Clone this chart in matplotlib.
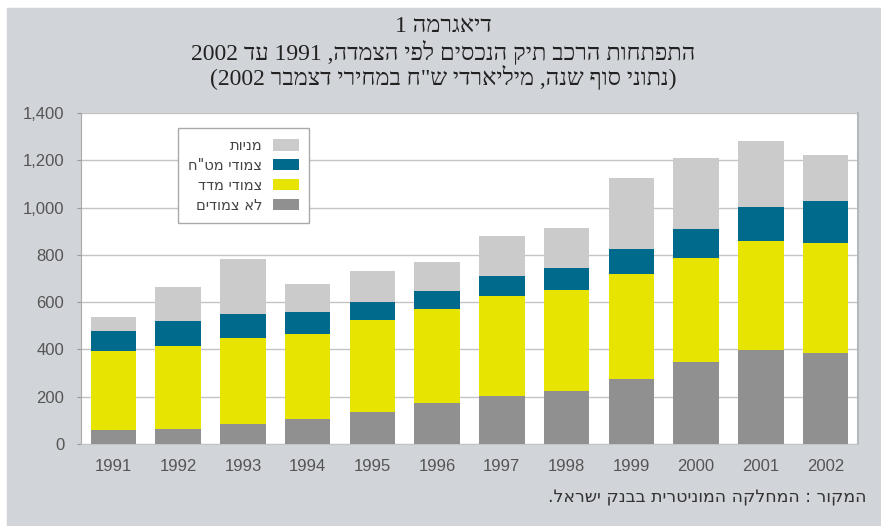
import re
import numpy as np
import matplotlib
matplotlib.use("Agg")
from matplotlib import pyplot as plt
from matplotlib.patches import Rectangle

years = ["1991", "1992", "1993", "1994", "1995", "1996",
         "1997", "1998", "1999", "2000", "2001", "2002"]
# NIS billions, Dec 2002 prices
not_linked = [59, 64, 85, 106, 134, 172, 205, 226, 275, 345, 397, 384]
cpi_linked = [333, 351, 364, 360, 391, 400, 420, 427, 442, 441, 460, 466]
fx_linked = [88, 107, 101, 93, 76, 77, 84, 91, 107, 124, 147, 178]
shares = [59, 144, 232, 118, 130, 122, 169, 169, 302, 300, 276, 196]

series_names = ["לא צמודים", "צמודי מדד", 'צמודי מט"ח', "מניות"]
colors = ["#909090", "#e6e400", "#006a8c", "#cbcbcb"]

title1 = "דיאגרמה 1"
title2 = "התפתחות הרכב תיק הנכסים לפי הצמדה, 1991 עד 2002"
title3 = '(נתוני סוף שנה, מיליארדי ש"ח במחירי דצמבר 2002)'
source = "המקור : המחלקה המוניטרית בבנק ישראל."


def visual(s):
    # logical hebrew -> left to right drawing order, numbers kept as is
    r = s[::-1]
    r = re.sub(r"[0-9][0-9,.]*[0-9]", lambda m: m.group(0)[::-1], r)
    return r.translate(str.maketrans("()", ")("))


bg = "#d1d4d8"
fig = plt.figure(figsize=(8.81, 5.26), dpi=100, facecolor="white")
fig.patches.append(Rectangle((7 / 881, 0), 1, 1 - 8 / 526,
                             transform=fig.transFigure, color=bg, zorder=-10))

ax = fig.add_axes([81 / 881, 82 / 526, 777 / 881, 331 / 526])
ax.set_facecolor("white")

x = np.arange(len(years))
bottom = np.zeros(len(years))
data = [not_linked, cpi_linked, fx_linked, shares]
handles = []
for vals, name, c in zip(data, series_names, colors):
    b = ax.bar(x, vals, 0.7, bottom=bottom, color=c, zorder=3)
    handles.append(b)
    bottom += np.array(vals)

ax.set_xlim(-0.5, 11.5)
ax.set_ylim(0, 1400)
ax.set_yticks(range(0, 1401, 200))
ax.set_yticklabels([f"{v:,}" for v in range(0, 1401, 200)])
ax.set_xticks(x)
ax.set_xticklabels(years)
ax.yaxis.grid(True, color="#c4c4c4", linewidth=1, zorder=0)
ax.tick_params(axis="y", length=3, color="#999999", labelcolor="#555555",
               labelsize=12, pad=9)
ax.tick_params(axis="x", length=0, labelcolor="#555555", labelsize=12,
               pad=11)
for lab in ax.get_xticklabels() + ax.get_yticklabels():
    lab.set_family("Liberation Sans")
ax.spines["top"].set_visible(False)
ax.spines["left"].set_color("#aaaaaa")
ax.spines["bottom"].set_color("#c4c4c4")
ax.spines["right"].set_color("#b5b8bc")
ax.spines["right"].set_linewidth(1.5)

leg = ax.legend(handles[::-1], [visual(n) for n in series_names[::-1]],
                loc="upper left", bbox_to_anchor=(0.125, 0.955),
                borderaxespad=0, markerfirst=False, frameon=True,
                fancybox=False, edgecolor="#aaaaaa", framealpha=1,
                handlelength=1.8, handleheight=0.8, labelspacing=0.33,
                borderpad=0.7, handletextpad=0.7,
                prop={"family": ["DejaVu Sans"], "size": 10.5})
leg.get_frame().set_linewidth(1)
for t in leg.get_texts():
    t.set_color("#444444")

tfont = ["Liberation Serif", "DejaVu Sans"]
for i, t in enumerate([title1, title2, title3]):
    fig.text(0.503, 1 - (27 + 25.5 * i) / 526, visual(t), ha="center",
             va="center", fontsize=17, family=tfont, color="#222222")
fig.text(866 / 881, 1 - 497 / 526, visual(source), ha="right", va="center",
         fontsize=12.5, family=["DejaVu Sans"], color="#333333")

fig.savefig("out.png", dpi=100, facecolor=fig.get_facecolor())
